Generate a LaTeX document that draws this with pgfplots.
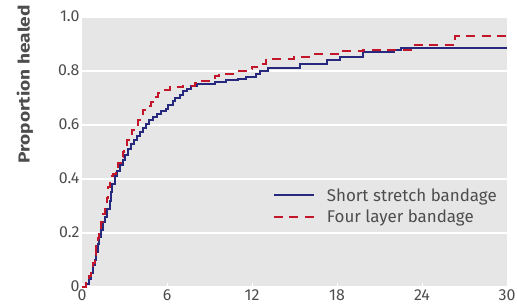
\documentclass[border=0pt]{standalone}
\usepackage{pgfplots}
\pgfplotsset{compat=1.18}
\usepackage{fontspec}
\setmainfont{Fira Sans}
\definecolor{bgg}{HTML}{E6E6E6}
\definecolor{txt}{HTML}{4D4D4D}
\definecolor{navy}{HTML}{27297F}
\definecolor{bred}{HTML}{C2172B}
\begin{document}
\begin{tikzpicture}
\begin{axis}[
  scale only axis,
  width=425bp, height=270bp,
  xmin=0, xmax=30, ymin=0, ymax=1,
  axis line style={draw=none},
  axis background/.style={fill=bgg},
  xtick={0,6,12,18,24,30},
  ytick={0,0.2,0.4,0.6,0.8,1.0},
  yticklabels={0,0.2,0.4,0.6,0.8,1.0},
  xticklabels={0,6,12,18,24,30},
  ymajorgrids,
  grid style={white, line width=1.5pt},
  major x tick style={white, line width=1pt},
  major y tick style={draw=none},
  major tick length=4bp,
  tick align=inside,
  xtick pos=bottom,
  ticklabel style={font=\fontsize{16}{18}\selectfont, text=txt},
  yticklabel style={xshift=1bp, yshift=1bp},
  xticklabel style={yshift=1bp},
  ylabel={\scalebox{1.2}[1]{\bfseries Proportion healed}},
  ylabel style={font=\fontsize{16}{18}\selectfont, text=txt,
    at={(rel axis cs:0,0.75)}, yshift=57bp, anchor=center},
  legend style={at={(0.988,0.30)}, anchor=east, draw=none, fill=none,
    font=\fontsize{17}{19}\selectfont, text=txt, row sep=3bp, column sep=10bp},
  legend cell align=left,
  legend image code/.code={\draw[#1] (0bp,0bp) -- (40bp,0bp);},
  clip=false,
]
\coordinate (sw) at (rel axis cs:0,0);
\coordinate (ne) at (rel axis cs:1,1);
\addplot[const plot, navy, line width=2bp] coordinates {
(0,0) (0.3,0.01) (0.5,0.03) (0.65,0.05) (0.8,0.08) (0.9,0.10) (1.0,0.13)
(1.1,0.16) (1.2,0.185) (1.35,0.21) (1.45,0.24) (1.6,0.26) (1.8,0.29)
(1.95,0.32) (2.05,0.35) (2.15,0.38) (2.3,0.41) (2.5,0.43) (2.7,0.45)
(2.9,0.47) (3.05,0.49) (3.25,0.51) (3.45,0.53) (3.7,0.545) (3.9,0.56)
(4.1,0.575) (4.3,0.59) (4.5,0.605) (4.7,0.62) (5.0,0.63) (5.3,0.64)
(5.6,0.65) (5.9,0.66) (6.1,0.675) (6.4,0.69) (6.6,0.70) (6.9,0.71)
(7.1,0.725) (7.4,0.735) (7.7,0.745) (8.1,0.752) (9.4,0.76) (10.2,0.767)
(11.0,0.772) (11.6,0.778) (12.3,0.79) (12.56,0.80) (13.1,0.812)
(15.4,0.827) (17.3,0.839) (18.2,0.851) (19.8,0.871) (22.0,0.878)
(22.5,0.886) (30,0.886)
};
\addlegendentry{Short stretch bandage}
\addplot[const plot, bred, line width=2bp, dash pattern=on 9bp off 6.5bp] coordinates {
(0,0) (0.3,0.015) (0.5,0.04) (0.65,0.06) (0.8,0.09) (0.9,0.12) (1.0,0.15)
(1.1,0.18) (1.2,0.21) (1.35,0.24) (1.5,0.27) (1.6,0.30) (1.75,0.33)
(1.85,0.37) (1.95,0.41) (2.2,0.42) (2.4,0.44) (2.55,0.46) (2.75,0.48)
(2.9,0.50) (3.0,0.52) (3.15,0.545) (3.3,0.565) (3.5,0.583) (3.7,0.60)
(3.95,0.62) (4.1,0.64) (4.3,0.657) (4.6,0.672) (4.9,0.687) (5.1,0.705)
(5.4,0.72) (5.7,0.73) (6.2,0.739) (7.1,0.746) (8.0,0.755) (8.5,0.762)
(9.0,0.768) (9.4,0.78) (9.7,0.79) (11.0,0.80) (11.6,0.806) (12.0,0.815)
(12.6,0.827) (13.0,0.845) (15.0,0.852) (16.2,0.862) (18.2,0.873)
(19.8,0.878) (23.5,0.896) (26.3,0.931) (30,0.931)
};
\addlegendentry{Four layer bandage}
\end{axis}
\pgfresetboundingbox
\path ([xshift=-82bp,yshift=-17.5bp]sw) rectangle ([xshift=10bp,yshift=17bp]ne);
\end{tikzpicture}
\end{document}
